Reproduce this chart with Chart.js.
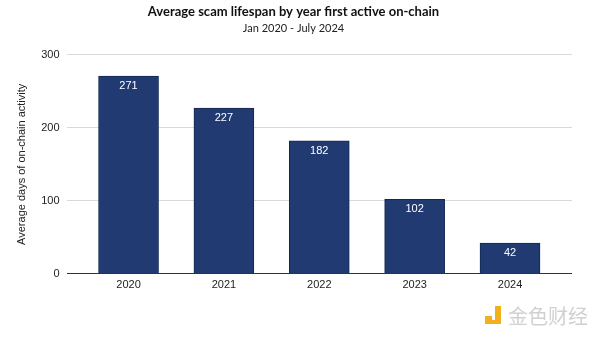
<!DOCTYPE html>
<html>
<head>
<meta charset="utf-8">
<script src="https://cdn.jsdelivr.net/npm/chart.js@4"></script>
<style>
  html, body { margin: 0; padding: 0; background: #fff; }
  #wrap { width: 600px; height: 339px; }
</style>
</head>
<body>
<div id="wrap"><canvas id="chart"></canvas></div>
<script>
// Data
const years = ['2020', '2021', '2022', '2023', '2024'];
const avgDays = [271, 227, 182, 102, 42];
const yTicks = [0, 100, 200, 300];

const barFill = '#213a72';
const barEdge = '#142850';

// white value labels inside the top of each bar
const valueLabels = {
    id: 'valueLabels',
    afterDatasetsDraw(chart) {
        const ctx = chart.ctx;
        const meta = chart.getDatasetMeta(0);
        ctx.save();
        ctx.fillStyle = '#ffffff';
        ctx.font = '11px "Liberation Sans", Arial, sans-serif';
        ctx.textAlign = 'center';
        ctx.textBaseline = 'middle';
        meta.data.forEach((bar, i) => {
            ctx.fillText(String(avgDays[i]), bar.x, bar.y + 10);
        });
        ctx.restore();
    }
};

// faint logo text in the corner
const watermark = {
    id: 'watermark',
    afterDraw(chart) {
        const ctx = chart.ctx;
        ctx.save();
        ctx.fillStyle = '#f2b01e';
        ctx.fillRect(485, 316, 7, 8);
        ctx.fillRect(495, 306, 6, 18);
        ctx.fillRect(485, 320, 16, 4);
        ctx.fillStyle = 'rgba(150,150,150,0.45)';
        ctx.font = '20px "Noto Sans CJK SC", sans-serif';
        ctx.textBaseline = 'middle';
        ctx.fillText('金色财经', 508, 316);
        ctx.restore();
    }
};

new Chart(document.getElementById('chart'), {
    type: 'bar',
    data: {
        datasets: [{
            data: avgDays.map((v, i) => ({ x: i, y: v })),
            backgroundColor: barFill,
            borderColor: barEdge,
            borderWidth: 1,
            barThickness: 60
        }]
    },
    options: {
        responsive: true,
        maintainAspectRatio: false,
        animation: false,
        layout: { padding: { left: 15, right: 28, top: 4, bottom: 50 } },
        plugins: {
            legend: { display: false },
            tooltip: { enabled: false },
            title: {
                display: true,
                text: 'Average scam lifespan by year first active on-chain',
                color: '#111',
                font: { family: 'Lato, sans-serif', size: 13, weight: 'bold' },
                padding: { top: 0, bottom: 2 }
            },
            subtitle: {
                display: true,
                text: 'Jan 2020 - July 2024',
                color: '#222',
                font: { family: 'Lato, sans-serif', size: 11 },
                padding: { top: 0, bottom: 20 }
            }
        },
        scales: {
            x: {
                type: 'linear',
                min: -0.65,
                max: 4.65,
                offset: false,
                grid: { display: false, offset: false },
                border: { display: false },
                afterBuildTicks(axis) {
                    axis.ticks = years.map((_, i) => ({ value: i }));
                },
                ticks: {
                    color: '#222',
                    font: { family: '"Liberation Sans", Arial, sans-serif', size: 11 },
                    padding: -3,
                    maxRotation: 0,
                    callback: v => years[v]
                }
            },
            y: {
                min: 0,
                max: 300,
                afterBuildTicks(axis) {
                    axis.ticks = yTicks.map(v => ({ value: v }));
                },
                grid: {
                    color: c => c.tick.value === 0 ? '#333333' : '#d9d9d9',
                    lineWidth: 1,
                    drawTicks: false
                },
                border: { display: false },
                ticks: {
                    color: '#222',
                    font: { family: '"Liberation Sans", Arial, sans-serif', size: 11 },
                    padding: 7
                },
                title: {
                    display: true,
                    text: 'Average days of on-chain activity',
                    color: '#222',
                    font: { family: '"Liberation Sans", Arial, sans-serif', size: 11 },
                    padding: { top: 0, bottom: 6 }
                }
            }
        }
    },
    plugins: [valueLabels, watermark]
});
</script>
</body>
</html>
